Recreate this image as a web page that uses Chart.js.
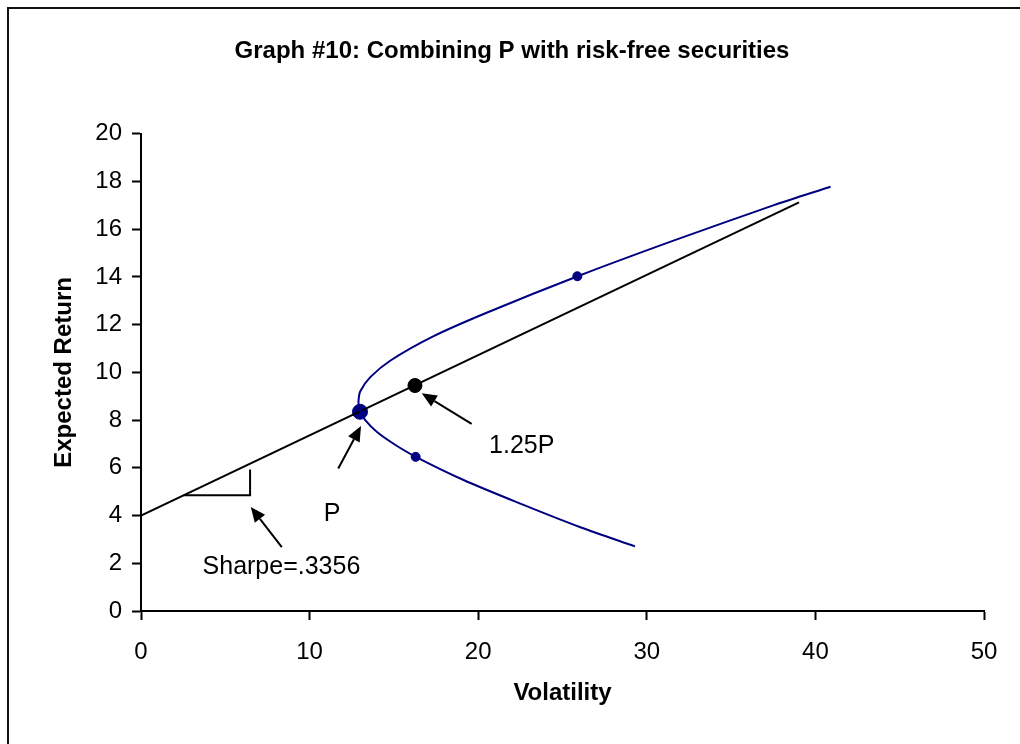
<!DOCTYPE html>
<html>
<head>
<meta charset="utf-8">
<script src="https://cdn.jsdelivr.net/npm/chart.js@4.4.1/dist/chart.umd.min.js"></script>
<style>
  html, body { margin: 0; padding: 0; background: #fff; }
  #wrap { width: 1020px; height: 744px; }
</style>
</head>
<body>
<div id="wrap"><canvas id="chart" width="1020" height="744"></canvas></div>
<script>
// efficient frontier (volatility, expected return)
const frontierSigma = [29.3, 26.1, 22.5, 19.1, 16.3, 15.0, 14.0, 13.3, 13.0, 12.92, 12.9, 13.0, 13.6, 14.8, 17.3, 20.5, 25.9, 31.5, 37.5, 40.9];
const frontierMu    = [2.71, 3.5, 4.5, 5.5, 6.46, 7.0, 7.5, 8.0, 8.36, 8.6, 8.79, 9.2, 9.8, 10.5, 11.5, 12.5, 14.03, 15.5, 17.0, 17.78];

// capital allocation line through P
const calSigma = [0, 39.03];
const calMu    = [4, 17.13];

// the little slope triangle
const triSigma = [2.51, 6.47, 6.47];
const triMu    = [4.85, 4.85, 5.93];

// the two assets on the frontier
const assetSigma = [16.29, 25.88];
const assetMu    = [6.46, 14.03];

const pPoint   = { x: 12.99, y: 8.35 };
const p125     = { x: 16.25, y: 9.45 };

// annotations: [text, x, y]
const labels = [
    ["P", 11.33, 4.04],
    ["1.25P", 22.58, 6.9],
    ["Sharpe=.3356", 8.33, 1.84]
];
// arrows: [fromX, fromY, toX, toY]
const arrows = [
    [11.7, 5.97, 13.05, 7.75],
    [19.61, 7.84, 16.65, 9.13],
    [8.35, 2.68, 6.51, 4.36]
];

const navy = "#000080";
const font = "'Liberation Sans', Arial, sans-serif";

const zip = (xs, ys) => xs.map((x, i) => ({ x: x, y: ys[i] }));

const frame = {
    id: "frame",
    beforeDraw(chart) {
        const ctx = chart.ctx;
        ctx.save();
        ctx.fillStyle = "#fff";
        ctx.fillRect(0, 0, chart.width, chart.height);
        ctx.strokeStyle = "#111";
        ctx.lineWidth = 2;
        ctx.beginPath();
        ctx.moveTo(8, chart.height);
        ctx.lineTo(8, 8);
        ctx.lineTo(chart.width, 8);
        ctx.stroke();
        ctx.restore();
    }
};

const notes = {
    id: "notes",
    afterDatasetsDraw(chart) {
        const ctx = chart.ctx;
        const xs = chart.scales.x, ys = chart.scales.y;
        ctx.save();
        ctx.strokeStyle = "#000";
        ctx.fillStyle = "#000";
        ctx.lineWidth = 2;
        arrows.forEach(a => {
            const x1 = xs.getPixelForValue(a[0]), y1 = ys.getPixelForValue(a[1]);
            const x2 = xs.getPixelForValue(a[2]), y2 = ys.getPixelForValue(a[3]);
            const ang = Math.atan2(y2 - y1, x2 - x1);
            const len = 15, half = 6.5;
            const bx = x2 - len * Math.cos(ang), by = y2 - len * Math.sin(ang);
            ctx.beginPath();
            ctx.moveTo(x1, y1);
            ctx.lineTo(bx, by);
            ctx.stroke();
            ctx.beginPath();
            ctx.moveTo(x2, y2);
            ctx.lineTo(bx + half * Math.sin(ang), by - half * Math.cos(ang));
            ctx.lineTo(bx - half * Math.sin(ang), by + half * Math.cos(ang));
            ctx.closePath();
            ctx.fill();
        });
        ctx.font = "25px " + font;
        ctx.textAlign = "center";
        ctx.textBaseline = "middle";
        labels.forEach(l => {
            ctx.fillText(l[0], xs.getPixelForValue(l[1]), ys.getPixelForValue(l[2]));
        });
        ctx.restore();
    }
};

const axisGrid = { display: true, drawOnChartArea: false, drawTicks: true, tickLength: 9, tickColor: "#000", tickWidth: 2 };

new Chart(document.getElementById("chart"), {
    type: "scatter",
    data: {
        datasets: [
            {
                data: zip(frontierSigma, frontierMu),
                showLine: true,
                borderColor: navy,
                borderWidth: 2,
                pointRadius: 0,
                tension: 0.3
            },
            {
                data: zip(calSigma, calMu),
                showLine: true,
                borderColor: "#000",
                borderWidth: 2,
                pointRadius: 0
            },
            {
                data: zip(triSigma, triMu),
                showLine: true,
                borderColor: "#000",
                borderWidth: 2,
                pointRadius: 0
            },
            {
                data: zip(assetSigma, assetMu),
                pointRadius: 4.5,
                backgroundColor: navy,
                borderColor: navy
            },
            {
                data: [pPoint],
                pointRadius: 7.5,
                backgroundColor: navy,
                borderColor: navy
            },
            {
                data: [p125],
                pointRadius: 7,
                backgroundColor: "#000",
                borderColor: "#000"
            }
        ]
    },
    options: {
        responsive: false,
        animation: false,
        layout: { padding: { left: 40, right: 36, top: 0, bottom: 32 } },
        plugins: {
            legend: { display: false },
            tooltip: { enabled: false },
            title: {
                display: true,
                text: "Graph #10: Combining P with risk-free securities",
                color: "#000",
                font: { family: font, size: 24, weight: "bold" },
                padding: { top: 37, bottom: 68 }
            }
        },
        scales: {
            x: {
                type: "linear",
                min: 0,
                max: 50,
                afterFit: s => { s.height = 101; },
                ticks: { stepSize: 10, color: "#000", font: { family: font, size: 24 }, padding: 18 },
                grid: axisGrid,
                border: { color: "#000", width: 2 },
                title: {
                    display: true,
                    text: "Volatility",
                    color: "#000",
                    font: { family: font, size: 24, weight: "bold" },
                    padding: { top: 4, bottom: 4 }
                }
            },
            y: {
                type: "linear",
                min: 0,
                max: 20,
                afterFit: s => { s.width = 101; },
                ticks: { stepSize: 2, color: "#000", font: { family: font, size: 24 }, padding: 10 },
                grid: axisGrid,
                border: { color: "#000", width: 2 },
                title: {
                    display: true,
                    text: "Expected Return",
                    color: "#000",
                    font: { family: font, size: 24, weight: "bold" },
                    padding: { top: 10, bottom: 4 }
                }
            }
        }
    },
    plugins: [frame, notes]
});
</script>
</body>
</html>
